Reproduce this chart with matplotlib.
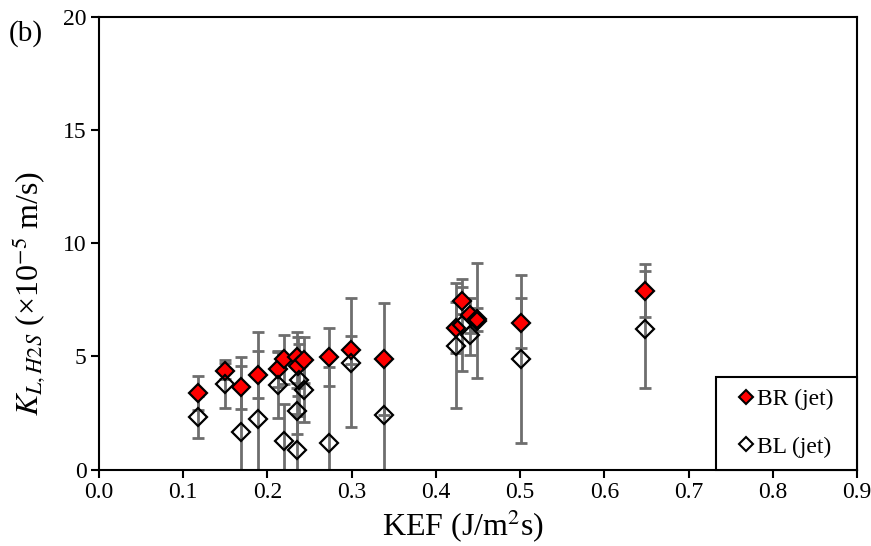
import matplotlib.pyplot as plt
from matplotlib.lines import Line2D

plt.rcParams['font.family'] = 'Liberation Serif'
plt.rcParams['mathtext.fontset'] = 'stix'

# BR (jet) series
br_x = [0.118, 0.149, 0.169, 0.189, 0.212, 0.220, 0.235, 0.236, 0.243, 0.273, 0.299, 0.338,
        0.424, 0.431, 0.441, 0.449, 0.501, 0.648]
br_y = [3.37, 4.36, 3.64, 4.19, 4.43, 4.87, 4.96, 4.57, 4.84, 4.96, 5.28, 4.87,
        6.26, 7.46, 6.82, 6.63, 6.48, 7.90]
br_err = [0.76, 0.35, 0.95, 1.04, 0.80, 1.07, 1.13, 1.30, 1.00, 1.28, 0.62, 2.47,
          1.12, 0.60, 0.77, 0.50, 1.09, 1.18]

# BL (jet) series
bl_x = [0.118, 0.149, 0.169, 0.189, 0.212, 0.220, 0.235, 0.235, 0.237, 0.243, 0.273, 0.299, 0.338,
        0.424, 0.431, 0.441, 0.449, 0.501, 0.648]
bl_y = [2.31, 3.76, 1.67, 2.22, 3.73, 1.26, 0.86, 2.58, 3.95, 3.51, 1.18, 4.72, 2.41,
        5.47, 6.38, 5.94, 6.58, 4.88, 6.19]
bl_err = [0.93, 1.06, 3.31, 3.87, 1.45, 1.63, 1.60, 1.00, 1.60, 1.40, 3.33, 2.85, 2.46,
          2.75, 2.03, 0.90, 2.53, 3.72, 2.58]

fig = plt.figure(figsize=(8.71, 5.46), dpi=100)
ax = fig.add_axes([0.1137, 0.140, 0.8703, 0.8294])

ecol = '#6e6e6e'
ax.errorbar(br_x, br_y, yerr=br_err, fmt='none', ecolor=ecol, elinewidth=2, capsize=4.5, capthick=2, zorder=2)
ax.errorbar(bl_x, bl_y, yerr=bl_err, fmt='none', ecolor=ecol, elinewidth=2, capsize=4.5, capthick=2, zorder=2)
ax.plot(br_x, br_y, 'D', ms=9, mfc='red', mec='black', mew=1.6, ls='none', zorder=3)
ax.plot(bl_x, bl_y, 'D', ms=9, mfc='none', mec='black', mew=1.6, ls='none', zorder=4)

ax.set_xlim(0, 0.9)
ax.set_ylim(0, 20)
ax.set_xticks([i / 10 for i in range(10)])
ax.set_xticklabels([f'{i / 10:.1f}' for i in range(10)])
ax.set_yticks([0, 5, 10, 15, 20])
ax.tick_params(direction='out', length=6, width=1.5, labelsize=17, colors='black', pad=3)
for s in ax.spines.values():
    s.set_linewidth(1.5)

ax.set_xlabel('KEF (J/m$^2$s)', fontsize=23)
ax.set_ylabel(r'$K_{L,H2S}$ (×10$^{-5}$ m/s)', fontsize=23)
ax.xaxis.set_label_coords(0.48, -0.085)
ax.yaxis.set_label_coords(-0.067, 0.39)
fig.text(0.01, 0.925, '(b)', fontsize=21)

handles = [Line2D([], [], marker='D', ls='none', ms=7, mfc='red', mec='black', mew=1.5),
           Line2D([], [], marker='D', ls='none', ms=7, mfc='none', mec='black', mew=1.5)]
leg = ax.legend(handles, ['BR (jet)  ', 'BL (jet)  '], loc='lower right', fontsize=17,
                frameon=True, fancybox=False, edgecolor='black', framealpha=1,
                borderaxespad=0, borderpad=0.5, labelspacing=1.1,
                handlelength=1.55, handletextpad=-0.3)
leg.get_frame().set_linewidth(1.5)

fig.savefig('out.png', dpi=100)
